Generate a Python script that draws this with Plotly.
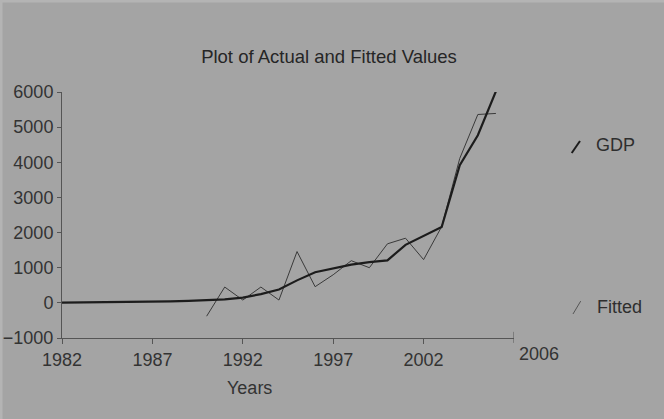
import plotly.graph_objects as go

years_gdp = list(range(1982, 2007))
gdp = [5, 8, 12, 16, 20, 25, 40, 55, 75, 100, 150, 250, 380, 640, 870, 990,
       1090, 1160, 1210, 1650, 1900, 2160, 3920, 4770, 6020]

years_fit = list(range(1990, 2007))
fitted = [-380, 450, 80, 450, 80, 1460, 460, 800, 1200, 1000, 1680, 1840,
          1230, 2170, 4110, 5360, 5390]

x_ticks = [1982, 1987, 1992, 1997, 2002]
y_ticks = [-1000, 0, 1000, 2000, 3000, 4000, 5000, 6000]

bg = "#a4a4a4"
font_fam = "Liberation Sans, Arial, sans-serif"

fig = go.Figure()
fig.add_trace(go.Scatter(x=years_fit, y=fitted, mode="lines", name="Fitted",
                         line=dict(color="#3a3a3a", width=1)))
fig.add_trace(go.Scatter(x=years_gdp, y=gdp, mode="lines", name="GDP",
                         line=dict(color="#1c1c1c", width=2.2)))

fig.update_layout(
    width=664, height=419,
    paper_bgcolor=bg, plot_bgcolor=bg,
    margin=dict(l=62, r=150, t=92, b=81),
    showlegend=False,
    font=dict(family=font_fam, color="#2e2e2e", size=17),
    title=dict(text="Plot of Actual and Fitted Values", x=329 / 664, xref="container",
               xanchor="center", y=1 - 57 / 419, yref="container", yanchor="middle",
               font=dict(size=18.5, color="#262626")),
    xaxis=dict(range=[1982, 2007], tickvals=x_ticks, ticktext=[str(v) for v in x_ticks],
               showgrid=False, zeroline=False, showline=True, linecolor="#555",
               linewidth=1, ticks="outside", ticklen=5, tickcolor="#555",
               automargin=False, tickfont=dict(size=18, color="#333")),
    yaxis=dict(range=[-1000, 6000], tickvals=y_ticks, showgrid=False, zeroline=False,
               showline=True, linecolor="#555", linewidth=1, ticks="outside",
               ticklen=4, tickcolor="#555", automargin=False,
               tickfont=dict(size=18, color="#333")),
)

# x axis title placed like the reference
fig.add_annotation(xref="paper", yref="paper", x=(249 - 62) / 452, y=-(388 - 338) / 246,
                   text="Years", showarrow=False, xanchor="center", yanchor="middle",
                   font=dict(size=18, color="#333"))

# "2006" label at far right of axis
fig.add_annotation(xref="paper", yref="paper", x=(539 - 62) / 452, y=0, text="2006",
                   showarrow=False, xanchor="center", yanchor="top", yshift=-4,
                   font=dict(size=18, color="#333"))
# end tick
fig.add_shape(type="line", xref="x", yref="paper", x0=2007, x1=2007, y0=-0.02, y1=0.025,
              line=dict(color="#555", width=1))

# legend entries
fig.add_shape(type="line", xref="paper", yref="paper", x0=1.1277, x1=1.146, y0=0.752, y1=0.801,
              line=dict(color="#1c1c1c", width=2))
fig.add_annotation(xref="paper", yref="paper", x=1.176, y=0.785, text="GDP", showarrow=False,
                   xanchor="left", yanchor="middle", font=dict(size=18, color="#2e2e2e"))
fig.add_shape(type="line", xref="paper", yref="paper", x0=1.1305, x1=1.1476, y0=0.0976, y1=0.150,
              line=dict(color="#555", width=1))
fig.add_annotation(xref="paper", yref="paper", x=1.18, y=0.126, text="Fitted", showarrow=False,
                   xanchor="left", yanchor="middle", font=dict(size=18, color="#2e2e2e"))

# scan edge: lighter strip at top and left
fig.add_shape(type="line", xref="paper", yref="paper", x0=-62 / 452, x1=(664 - 62) / 452,
              y0=1 + 91 / 246, y1=1 + 91 / 246, line=dict(color="#b4b4b4", width=3),
              layer="below")
fig.add_shape(type="line", xref="paper", yref="paper", x0=-61 / 452, x1=-61 / 452,
              y0=-81 / 246, y1=1 + 92 / 246, line=dict(color="#b4b4b4", width=3),
              layer="below")

fig.write_html("out.html", config={"displayModeBar": False},
               post_script="document.body.style.margin='0';document.body.style.background='%s';" % bg)
